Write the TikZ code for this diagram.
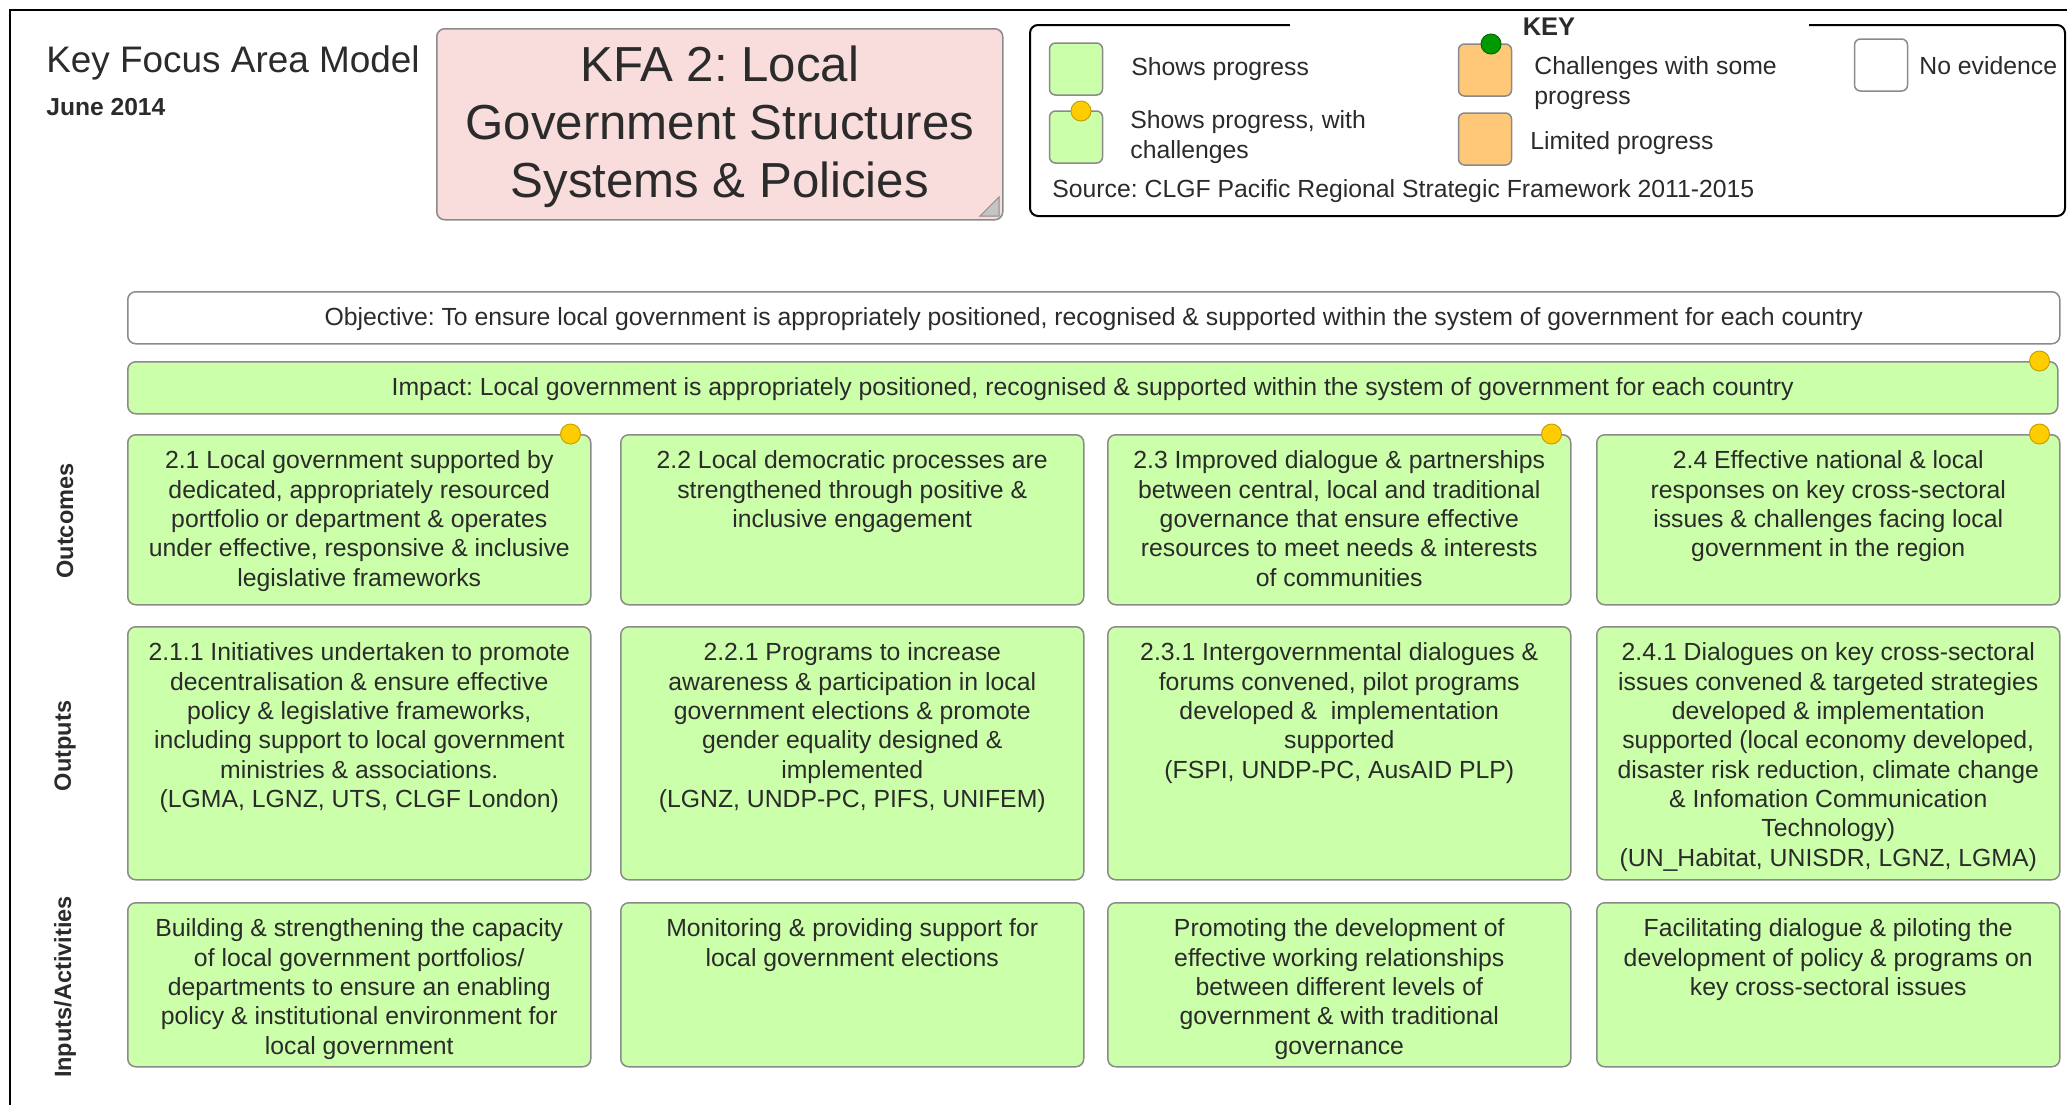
\documentclass[tikz,border=0pt]{standalone}
\usepackage{fontspec}
\setmainfont{Liberation Sans}
\usetikzlibrary{positioning}
\frenchspacing

\definecolor{cellgreen}{HTML}{CCFFAA}
\definecolor{cellborder}{HTML}{8A8A8A}
\definecolor{kfapink}{HTML}{F9DCDC}
\definecolor{keyorange}{HTML}{FFC878}
\definecolor{dotyellow}{HTML}{FFCC00}
\definecolor{dotedge}{HTML}{C9A100}
\definecolor{dotgreen}{HTML}{009A00}
\definecolor{textgray}{HTML}{2B2B2B}
\definecolor{foldgray}{HTML}{C4C4C4}

\newcommand{\bodysize}{\fontsize{14.1}{16.7}\selectfont}

\tikzset{
  cell/.style={draw=cellborder, line width=0.3mm, rounded corners=1.6mm, fill=cellgreen, anchor=north west, minimum width=92.6mm, inner sep=0pt},
  outcomecell/.style={cell, minimum height=34mm},
  outputcell/.style={cell, minimum height=50.6mm},
  inputcell/.style={cell, minimum height=32.8mm},
  celltext/.style={align=center, inner sep=0pt, text=textgray, font=\bodysize},
  wideband/.style={draw=cellborder, line width=0.3mm, rounded corners=1.6mm, anchor=north west, minimum width=386.4mm, minimum height=10.4mm, inner sep=0pt, text height=0.84em, text depth=0pt, text=textgray, font=\bodysize},
  keysquare/.style={draw=cellborder, line width=0.3mm, rounded corners=1.2mm, minimum width=10.6mm, minimum height=10.4mm, inner sep=0pt},
  keytext/.style={anchor=west, align=left, inner sep=0pt, text=textgray, font=\bodysize},
  amberdot/.style={shape=circle, draw=dotedge, fill=dotyellow, line width=0.2mm, minimum size=4mm, inner sep=0pt},
  sidelabel/.style={rotate=90, inner sep=0pt, text=textgray, font=\fontsize{13.4}{15}\selectfont\bfseries},
}

\begin{document}
\begin{tikzpicture}[x=0.2mm, y=-0.2mm]
  \useasboundingbox (0, 0) rectangle (2067, 1105);
  \node (title) at (46, 63) [anchor=west, inner sep=0pt, text=textgray, font=\fontsize{21}{24}\selectfont] {Key Focus Area Model};
  \node (date) at (46, 107) [anchor=west, inner sep=0pt, text=textgray, font=\fontsize{14}{16}\selectfont\bfseries] {June 2014};
  \node (kfa) at (436, 28) [anchor=north west, draw=cellborder, line width=0.3mm, rounded corners=1.6mm, fill=kfapink, minimum width=113.2mm, minimum height=38.2mm] {};
  \node (kfatext) at ([yshift=-0.6mm]kfa.center) [align=center, inner sep=0pt, text=textgray, font=\fontsize{28}{33}\selectfont] {KFA 2: Local\\Government Structures\\Systems \& Policies};
  \filldraw[fill=foldgray, draw=cellborder, line width=0.2mm] (980, 216) -- (999, 197) -- (999, 216) -- cycle;
  \node (key) at (1029, 24) [anchor=north west, draw=black, line width=0.4mm, rounded corners=1.6mm, minimum width=207mm, minimum height=38.2mm] {};
  \node (keytitle) at (1549, 27) [fill=white, minimum width=103.8mm, inner ysep=0.3mm, text=textgray, font=\fontsize{14.5}{16}\selectfont\bfseries] {KEY};
  \node (ks1) at (1076, 69) [keysquare, fill=cellgreen] {};
  \node (ks2) at (1076, 137) [keysquare, fill=cellgreen] {};
  \node (ks2dot) at (1081, 111) [amberdot] {};
  \node (ks3) at (1485, 70) [keysquare, fill=keyorange] {};
  \node (ks3dot) at (1491, 44) [amberdot, draw=dotgreen!70!black, fill=dotgreen] {};
  \node (ks4) at (1485, 139) [keysquare, fill=keyorange] {};
  \node (ks5) at (1881, 65) [keysquare, fill=white] {};
  \node (kt1) at (1131, 69) [keytext] {Shows progress};
  \node (kt2) at (1130, 137) [keytext] {Shows progress, with\\challenges};
  \node (kt3) at (1534, 83) [keytext] {Challenges with some\\progress};
  \node (kt4) at (1530, 143) [keytext] {Limited progress};
  \node (kt5) at (1919, 66) [keytext] {No evidence};
  \node (source) at (1052, 191) [keytext] {Source: CLGF Pacific Regional Strategic Framework 2011-2015};

  \node (objective) at (127, 291) [wideband, fill=white] {Objective: To ensure local government is appropriately positioned, recognised \& supported within the system of government for each country};
  \node (impact) at (127, 361) [wideband, fill=cellgreen, minimum width=386mm] {Impact: Local government is appropriately positioned, recognised \& supported within the system of government for each country};
  \node (impactdot) at ([xshift=-3.8mm]impact.north east) [amberdot] {};

  \node (outcomes) at (65, 521) [sidelabel] {Outcomes};
  \node (outputs) at (65, 746) [sidelabel] {Outputs};
  \node (inputs) at (65, 987) [sidelabel] {Inputs/Activities};

  \node (oc1) at (127, 434) [outcomecell] {};
  \node (oc2) at (620, 434) [outcomecell] {};
  \node (oc3) at (1107, 434) [outcomecell] {};
  \node (oc4) at (1596, 434) [outcomecell] {};
  \node (op1) at (127, 626) [outputcell] {};
  \node (op2) at (620, 626) [outputcell] {};
  \node (op3) at (1107, 626) [outputcell] {};
  \node (op4) at (1596, 626) [outputcell] {};
  \node (in1) at (127, 902) [inputcell] {};
  \node (in2) at (620, 902) [inputcell] {};
  \node (in3) at (1107, 902) [inputcell] {};
  \node (in4) at (1596, 902) [inputcell] {};
  \node (oc1dot) at ([xshift=-4.2mm]oc1.north east) [amberdot] {};
  \node (oc3dot) at ([xshift=-4mm]oc3.north east) [amberdot] {};
  \node (oc4dot) at ([xshift=-4.2mm]oc4.north east) [amberdot] {};

  \node (oc1text) [celltext, below=3.3mm of oc1.north] {2.1 Local government supported by\\dedicated, appropriately resourced\\portfolio or department \& operates\\under effective, responsive \& inclusive\\legislative frameworks};
  \node (oc2text) [celltext, below=3.3mm of oc2.north] {2.2 Local democratic processes are\\strengthened through positive \&\\inclusive engagement};
  \node (oc3text) [celltext, below=3.3mm of oc3.north] {2.3 Improved dialogue \& partnerships\\between central, local and traditional\\governance that ensure effective\\resources to meet needs \& interests\\of communities};
  \node (oc4text) [celltext, below=3.3mm of oc4.north] {2.4 Effective national \& local\\responses on key cross-sectoral\\issues \& challenges facing local\\government in the region};
  \node (op1text) [celltext, below=3.3mm of op1.north] {2.1.1 Initiatives undertaken to promote\\decentralisation \& ensure effective\\policy \& legislative frameworks,\\including support to local government\\ministries \& associations.\\(LGMA, LGNZ, UTS, CLGF London)};
  \node (op2text) [celltext, below=3.3mm of op2.north] {2.2.1 Programs to increase\\awareness \& participation in local\\government elections \& promote\\gender equality designed \&\\implemented\\(LGNZ, UNDP-PC, PIFS, UNIFEM)};
  \node (op3text) [celltext, below=3.3mm of op3.north] {2.3.1 Intergovernmental dialogues \&\\forums convened, pilot programs\\developed \& \ implementation\\supported\\(FSPI, UNDP-PC, AusAID PLP)};
  \node (op4text) [celltext, below=3.3mm of op4.north] {2.4.1 Dialogues on key cross-sectoral\\issues convened \& targeted strategies\\developed \& implementation\\supported (local economy developed,\\disaster risk reduction, climate change\\\& Infomation Communication\\Technology)\\(UN\_Habitat, UNISDR, LGNZ, LGMA)};
  \node (in1text) [celltext, below=3.3mm of in1.north] {Building \& strengthening the capacity\\of local government portfolios/\\departments to ensure an enabling\\policy \& institutional environment for\\local government};
  \node (in2text) [celltext, below=3.3mm of in2.north] {Monitoring \& providing support for\\local government elections};
  \node (in3text) [celltext, below=3.3mm of in3.north] {Promoting the development of\\effective working relationships\\between different levels of\\government \& with traditional\\governance};
  \node (in4text) [celltext, below=3.3mm of in4.north] {Facilitating dialogue \& piloting the\\development of policy \& programs on\\key cross-sectoral issues};

  \draw[line width=0.4mm] (2067, 10) -- (10, 10) -- (10, 1105);
\end{tikzpicture}
\end{document}
